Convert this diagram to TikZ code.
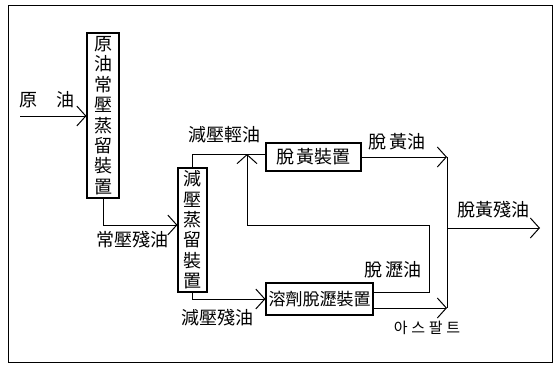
\documentclass[tikz,border=0pt]{standalone}
\usepackage{fontspec}
\newfontfamily\kr{Noto Sans CJK KR}
\newfontfamily\krsp[LetterSpace=25]{Noto Sans CJK KR}
\usetikzlibrary{arrows.meta}
\begin{document}
\begin{tikzpicture}[x=1pt,y=-1pt,
  font=\kr\fontsize{18}{21}\selectfont,
  box/.style={draw, line width=1.1pt, inner sep=0pt, align=center},
  ln/.style={line width=0.9pt},
  arr/.style={ln, -{Straight Barb[length=9pt,width=20pt,line width=1pt]}},
  lbl/.style={inner sep=0pt}]
\useasboundingbox (0,0) rectangle (560,369);
\draw[line width=0.8pt] (8,5) rectangle (552,362);
% boxes
\node[box, minimum width=32pt, minimum height=165pt, font=\kr\fontsize{18}{20.4}\selectfont] (b1) at (103,115.5)
  {原\\油\\常\\壓\\蒸\\留\\裝\\置};
\node[box, minimum width=29pt, minimum height=124pt, font=\kr\fontsize{18}{20.4}\selectfont] (b2) at (192.5,230)
  {減\\壓\\蒸\\留\\裝\\置};
\node[box, minimum width=95pt, minimum height=28pt, font=\kr\fontsize{18}{20}\selectfont] (dh) at (313.5,157) {脫\,黃裝置};
\node[box, minimum width=107pt, minimum height=32pt, font=\kr\fontsize{17}{20}\selectfont] (b3) at (319.5,299) {溶劑脫瀝裝置};
% coordinates
\coordinate (in) at (20,116);
\coordinate (r1) at (429,225);
\coordinate (j) at (247,154);
\coordinate (m) at (447,157);
\coordinate (mb) at (447,308);
\coordinate (o1) at (447,228);
\coordinate (o2) at (540,228);
% connectors
\draw[arr] (in) -- (in -| b1.west);
\draw[arr] (b1.south) |- ([yshift=5pt]b2.west);
\draw[ln] (b2.north) |- ([yshift=3pt]dh.west);
\draw[arr] (b2.south) |- (b3.west);
\draw[arr] ([yshift=7pt]b3.east) -| (r1) -| (j);
\draw[arr] (dh.east) -- (m);
\draw[ln] (m) -- (mb);
\draw[arr] (o1) -- (o2);
\draw[arr] ([yshift=-9pt]b3.east) -- (mb);
% labels
\node[lbl] (l1) at (47,100) {原\hspace{1.1em}油};
\node[lbl] (l2) at (224,135) {減壓輕油};
\node[lbl] (l3) at (397,142) {脫\,黃油};
\node[lbl] (l4) at (493,210) {脫黃殘油};
\node[lbl] (l5) at (393,270) {脫\,瀝油};
\node[lbl] (l6) at (132,240) {常壓殘油};
\node[lbl] (l7) at (217,318) {減壓殘油};
\node[lbl, font=\krsp\fontsize{15}{18}\selectfont] (l8) at (427,328) {아스팔트};
\end{tikzpicture}
\end{document}
